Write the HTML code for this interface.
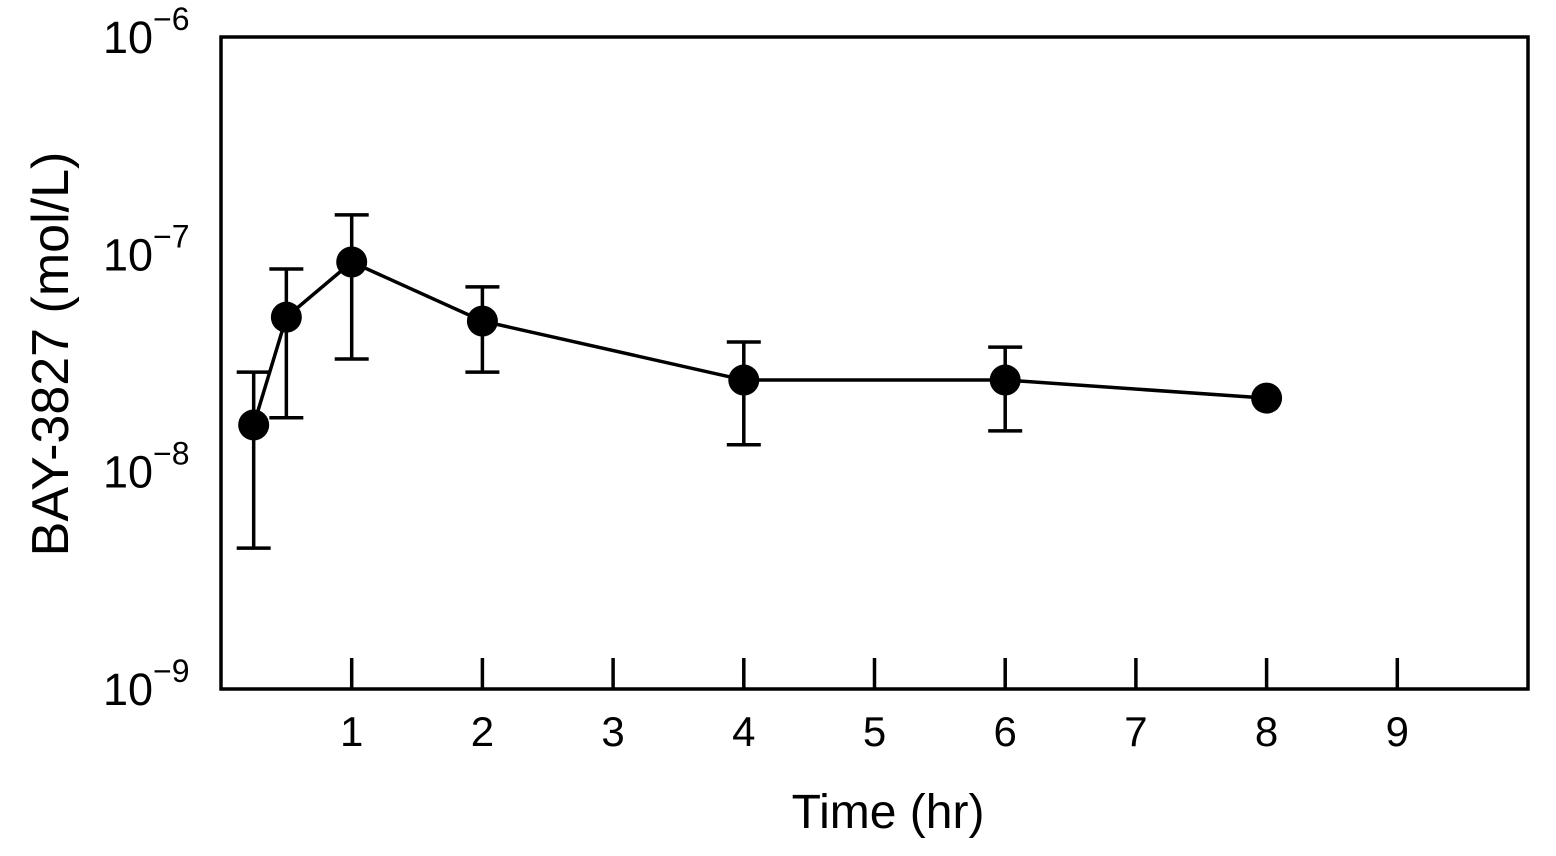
<!DOCTYPE html>
<html><head><meta charset="utf-8"><style>
html,body{margin:0;padding:0;background:#fff;}
svg{display:block;font-family:"Liberation Sans",sans-serif;}
</style></head><body>
<svg id="chart" width="1556" height="856" viewBox="0 0 1556 856"></svg>
<script>
const times = [0.25, 0.5, 1, 2, 4, 6, 8];
const conc = [1.64e-8, 5.14e-8, 9.22e-8, 4.93e-8, 2.64e-8, 2.64e-8, 2.18e-8];
const errHigh = [2.87e-8, 8.56e-8, 1.52e-7, 7.08e-8, 3.95e-8, 3.74e-8, null];
const errLow = [4.45e-9, 1.77e-8, 3.3e-8, 2.87e-8, 1.33e-8, 1.54e-8, null];
const xTicks = [1,2,3,4,5,6,7,8,9];
const yExps = [-6,-7,-8,-9];

const L=221,R=1528,T=37,B=689;
const xs = t => L + (R-L)*t/10;
const ys = v => T + (B-T)*(-6 - Math.log10(v))/3;
const NS='http://www.w3.org/2000/svg';
const svg=document.getElementById('chart');
function mk(tag,attrs,parent){const e=document.createElementNS(NS,tag);for(const k in attrs)e.setAttribute(k,attrs[k]);(parent||svg).appendChild(e);return e;}

const frame=mk('rect',{x:L,y:T,width:R-L,height:B-T,fill:'none',stroke:'#000','stroke-width':3.5});



xTicks.forEach(t=>{
  const ln=mk('line',{x1:xs(t),x2:xs(t),y1:B,y2:B-31,stroke:'#000','stroke-width':3.5});
  
  
  const tx=mk('text',{x:xs(t),y:746,'font-size':42,'text-anchor':'middle'});
  tx.textContent=t;
  
  
});
yExps.forEach(e=>{
  const y=ys(Math.pow(10,e));
  const tx=mk('text',{x:153,y:y+16,'font-size':45,'text-anchor':'end'});
  tx.textContent='10';
  
  
  const sup=mk('text',{x:153,y:y-7,'font-size':32,'text-anchor':'start'});
  sup.textContent='\u2212'+(-e);
  
  
});

const xt=mk('text',{x:888,y:828,'font-size':48,'text-anchor':'middle'});
xt.textContent='Time (hr)';


const yt=mk('text',{x:0,y:0,'font-size':52,'text-anchor':'middle',transform:'translate(68,354) rotate(-90)'});
yt.textContent='BAY-3827 (mol/L)';



const line=mk('polyline',{points:times.map((t,i)=>xs(t)+','+ys(conc[i])).join(' '),fill:'none',stroke:'#000','stroke-width':3.5});



times.forEach((t,i)=>{
  if(errHigh[i]!=null){
    const x=xs(t),y1=ys(errHigh[i]),y2=ys(errLow[i]);
    const g=mk('g',{stroke:'#000','stroke-width':3.5});
    
    
    mk('line',{x1:x,x2:x,y1:y1,y2:y2},g);
    mk('line',{x1:x-17,x2:x+17,y1:y1,y2:y1},g);
    mk('line',{x1:x-17,x2:x+17,y1:y2,y2:y2},g);
  }
});
times.forEach((t,i)=>{
  const c=mk('circle',{cx:xs(t),cy:ys(conc[i]),r:15.5,fill:'#000'});
  
  
});
</script>
</body></html>
